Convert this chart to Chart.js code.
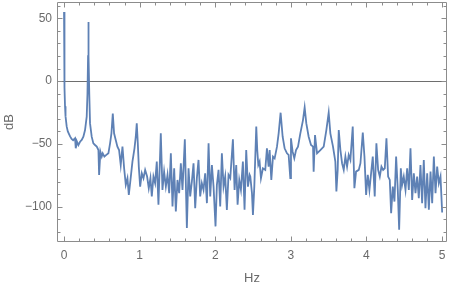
<!DOCTYPE html>
<html><head><meta charset="utf-8">
<script src="https://cdn.jsdelivr.net/npm/chart.js@4/dist/chart.umd.min.js"></script>
<style>html,body{margin:0;padding:0;background:#fff}#wrap{width:450px;height:286px}</style>
</head><body><div id="wrap"><canvas id="c" width="450" height="286"></canvas></div>
<script>
const freqHz = [
0,0.004,0.008,0.013,0.02,0.035,0.05,0.08,0.1,0.12,0.146,0.155,0.172,0.19,0.212,0.234,0.256,0.278,0.30,0.31,0.318,0.322,0.326,0.334,0.344,0.366,0.388,0.41,0.433,0.455,0.464,0.481,0.499,0.512,0.534,0.56,0.587,0.609,0.627,0.645,0.662,0.684,0.706,0.728,0.75,0.773,0.795,0.817,0.839,0.857,0.879,0.905,0.932,0.949,0.962,0.976,0.989,1.007,1.029,1.051,1.073,1.099,1.121,1.143,
1.161,1.183,1.205,1.227,1.249,1.280,1.302,1.324,1.347,1.369,1.391,1.413,1.435,1.457,1.479,1.501,1.523,1.545,1.567,1.598,1.625,1.647,1.669,1.691,1.713,1.735,1.757,1.779,1.801,1.823,1.845,1.867,1.890,1.912,1.934,1.956,1.978,2.004,2.022,2.044,2.066,2.088,2.110,2.132,2.154,2.176,2.199,2.234,2.256,2.278,2.296,2.318,2.340,2.366,2.388,2.410,2.433,2.455,
2.464,2.486,2.499,2.517,2.530,2.543,2.556,2.570,2.587,2.605,2.631,2.662,2.684,2.706,2.720,2.742,2.764,2.786,2.817,2.839,2.865,2.892,2.918,2.949,2.971,2.993,3.002,3.024,3.046,3.069,3.095,3.126,3.161,3.183,3.205,3.236,3.267,3.294,3.302,3.320,3.347,3.391,3.435,3.470,3.501,3.523,3.558,3.589,3.603,3.620,3.634,3.656,3.678,3.700,3.722,3.744,3.766,3.788,
3.819,3.841,3.863,3.899,3.921,3.952,3.974,3.996,4.018,4.040,4.062,4.084,4.110,4.132,4.155,4.177,4.199,4.221,4.243,4.265,4.287,4.309,4.327,4.349,4.371,4.393,4.415,4.433,4.455,4.472,4.494,4.517,4.539,4.561,4.583,4.605,4.627,4.649,4.671,4.693,4.715,4.737,4.759,4.781,4.804,4.826,4.848,4.870,4.892,4.914,4.936,4.958,4.980,5.002
];
const levelDb = [
55,20,-5,-20,-28,-36,-40,-44,-46,-47,-45.5,-53.4,-48.2,-50.8,-48.2,-46.8,-44.2,-38.9,-28.3,-10,20,47,20,-10,-33.6,-44.2,-49.5,-50.8,-52.1,-54.8,-74.6,-56.1,-60,-57.4,-60,-58.7,-57.4,-49.5,-41.5,-25.7,-41.5,-46.8,-52.1,-54.8,-66.7,-52.1,-69.3,-82.5,-77.2,-90.5,-78.6,-64,-53.4,-44.2,-33.6,-49.5,-68,-83.9,-73.3,-77.2,-70.6,-75.9,-85.2,-77.2,
-91.8,-75.9,-81.2,-64.0,-98.4,-41.5,-86.5,-72.0,-83.9,-74.6,-89.2,-57.4,-99.7,-69.3,-103.7,-78.6,-89.2,-65.3,-86.5,-46.3,-116.9,-69.3,-91.8,-79.9,-65.3,-101.1,-77.2,-62.7,-91.8,-81.2,-86.5,-73.3,-97.1,-49.5,-91.8,-66.7,-83.9,-115.6,-82.5,-70.6,-99.7,-57.4,-83.9,-75.9,-102.4,-74.6,-77.2,-46.3,-86.5,-66.7,-98.4,-78.6,-86.5,-64.0,-102.4,-54.8,-83.9,-74.6,
-75.9,-89.2,-106.4,-83.9,-60.0,-36.2,-54.8,-66.7,-64.0,-77.2,-69.3,-70.6,-53.4,-68.0,-54.8,-78.6,-60.0,-61.4,-52.1,-41.5,-25.1,-44.2,-53.4,-57.4,-58.7,-77.2,-45.5,-56.1,-61.4,-54.8,-52.1,-41.5,-31.0,-20.9,-33.6,-44.2,-50.8,-52.1,-72.0,-42.9,-57.4,-54.8,-52.1,-38.9,-25.1,-41.5,-52.1,-64.0,-87.8,-70.6,-38.9,-54.8,-65.3,-70.6,-60.0,-68.0,-58.7,-62.7,
-36.2,-85.2,-72.0,-70.6,-65.3,-41.0,-60.0,-90.5,-74.6,-86.5,-73.3,-60.0,-91.8,-49.5,-70.6,-75.9,-68.0,-70.6,-69.3,-45.5,-75.9,-78.6,-105.0,-83.9,-95.8,-60.0,-86.5,-118.3,-69.3,-82.5,-75.9,-86.5,-69.3,-86.5,-53.4,-94.5,-73.3,-89.2,-75.9,-93.1,-66.7,-97.1,-62.7,-101.1,-73.3,-102.4,-72.0,-97.1,-60.0,-89.2,-68.0,-81.2,-75.9,-104.5
];
const xTickValues = [0,1,2,3,4,5];
const yTickValues = [-100,-50,0,50];
const xMinorTicks = [0.2,0.4,0.6,0.8,1.2,1.4,1.6,1.8,2.2,2.4,2.6,2.8,3.2,3.4,3.6,3.8,4.2,4.4,4.6,4.8];
const yMinorTicks = [-120,-110,-90,-80,-70,-60,-40,-30,-20,-10,10,20,30,40,60];

const points = freqHz.map((f,i)=>({x:f,y:levelDb[i]}));
const FRAME = '#8c8c8c';
const TXT = '#6a6a6a';

const framePlugin = {
  id:'mframe',
  beforeDatasetsDraw(chart){
    const {ctx, chartArea:a, scales:{x,y}} = chart;
    ctx.save();
    ctx.strokeStyle = '#6e6e6e'; ctx.lineWidth = 1;
    const yz = Math.round(y.getPixelForValue(0))+0.5;
    ctx.beginPath(); ctx.moveTo(a.left,yz); ctx.lineTo(a.right,yz); ctx.stroke();
    ctx.restore();
  },
  afterDatasetsDraw(chart){
    const {ctx, chartArea:a, scales:{x,y}} = chart;
    ctx.save();
    ctx.strokeStyle = FRAME; ctx.lineWidth = 1;
    const L=Math.round(a.left)+0.5, R=Math.round(a.right)-0.5, T=Math.round(a.top)+0.5, B=Math.round(a.bottom)-0.5;
    ctx.beginPath(); ctx.rect(L,T,R-L,B-T); ctx.stroke();
    const tick = (vals,len,isX)=>{
      vals.forEach(v=>{
        if(isX){
          const p = Math.round(x.getPixelForValue(v))+0.5;
          ctx.moveTo(p,B); ctx.lineTo(p,B-len);
          ctx.moveTo(p,T); ctx.lineTo(p,T+len);
        } else {
          const p = Math.round(y.getPixelForValue(v))+0.5;
          ctx.moveTo(L,p); ctx.lineTo(L+len,p);
          ctx.moveTo(R,p); ctx.lineTo(R-len,p);
        }
      });
    };
    ctx.beginPath();
    tick(xTickValues,5,true); tick(xMinorTicks,3,true);
    tick(yTickValues,5,false); tick(yMinorTicks,3,false);
    ctx.stroke();
    ctx.restore();
  }
};

new Chart(document.getElementById('c'),{
  type:'scatter',
  data:{datasets:[{data:points,showLine:true,borderColor:'#5e81b5',borderWidth:1.8,pointRadius:0,tension:0,fill:false}]},
  options:{
    responsive:false, animation:false, devicePixelRatio:1,
    layout:{padding:{top:2,right:3,left:0,bottom:0}},
    plugins:{legend:{display:false},tooltip:{enabled:false}},
    scales:{
      x:{type:'linear',min:-0.093,max:5.066,
        afterFit(s){s.height=44;s.paddingLeft=0;s.paddingRight=0;s.paddingTop=0;s.paddingBottom=0;},
        afterBuildTicks(s){s.ticks=xTickValues.map(v=>({value:v}));},
        grid:{display:false,drawTicks:false},border:{display:false},
        ticks:{padding:6,color:TXT,font:{family:'Liberation Sans',size:12},maxRotation:0,autoSkip:false,
          callback:v=>String(v).replace('-','\u2212')},
        title:{display:true,text:'Hz',color:TXT,font:{family:'Liberation Sans',size:13},padding:{top:0,bottom:0}}
      },
      y:{type:'linear',min:-128,max:63,
        afterFit(s){s.width=57;s.paddingLeft=0;s.paddingRight=0;s.paddingTop=0;s.paddingBottom=0;},
        afterBuildTicks(s){s.ticks=yTickValues.map(v=>({value:v}));},
        grid:{display:false,drawTicks:false},border:{display:false},
        ticks:{padding:5,color:TXT,font:{family:'Liberation Sans',size:12},autoSkip:false,
          callback:v=>String(v).replace('-','\u2212')},
        title:{display:true,text:'dB',color:TXT,font:{family:'Liberation Sans',size:13},padding:{top:2,bottom:0}}
      }
    }
  },
  plugins:[framePlugin]
});
</script></body></html>
